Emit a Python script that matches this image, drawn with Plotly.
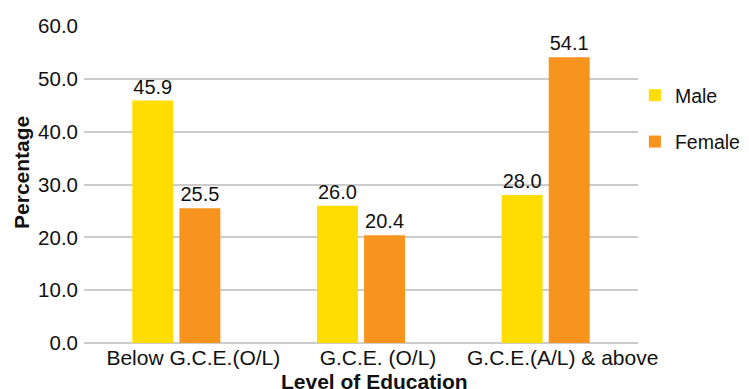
import plotly.graph_objects as go

categories = ["Below G.C.E.(O/L)", "G.C.E. (O/L)", "G.C.E.(A/L) & above"]
male = [45.9, 26.0, 28.0]
female = [25.5, 20.4, 54.1]
y_ticks = [0, 10, 20, 30, 40, 50, 60]

FONT = "Liberation Sans, Arial, Helvetica, sans-serif"

fig = go.Figure()
fig.add_trace(go.Bar(
    x=categories, y=male, name="Male", legendgroup="m",
    marker=dict(color="#FFDD00", line=dict(width=0)),
    text=[f"{v:.1f}" for v in male], textposition="outside",
    textfont=dict(size=20, color="#111111"), cliponaxis=False,
))
fig.add_trace(go.Bar(
    x=categories, y=female, name="Female", legendgroup="f",
    marker=dict(color="#F7941E", line=dict(width=0)),
    text=[f"{v:.1f}" for v in female], textposition="outside",
    textfont=dict(size=20, color="#111111"), cliponaxis=False,
))

# page body keeps an 8px margin, so the figure is sized to fit the window
fig.update_layout(
    width=741, height=381,
    margin=dict(l=76, r=111, t=18, b=46, autoexpand=False),
    plot_bgcolor="white", paper_bgcolor="white",
    font=dict(family=FONT, size=20, color="#111111"),
    barmode="group", bargap=0.49, bargroupgap=0.13,
    showlegend=True,
    legend=dict(
        xref="container", yref="container",
        x=0.846, xanchor="left", y=0.8215, yanchor="top",
        font=dict(size=19.5), tracegroupgap=18, itemwidth=30,
        bgcolor="rgba(0,0,0,0)",
    ),
    annotations=[
        dict(text="<b>Level of Education</b>", x=0.524, y=-0.08, xref="paper", yref="paper",
             xanchor="center", yanchor="top", showarrow=False, font=dict(size=21)),
        dict(text="<b>Percentage</b>", x=-0.114, y=0.539, xref="paper", yref="paper",
             xanchor="center", yanchor="middle", textangle=-90, showarrow=False,
             font=dict(size=21)),
    ],
)
fig.update_xaxes(showline=False, ticks="", tickfont=dict(size=21), showgrid=False,
                 ticklabelshift=17, automargin=False)
fig.update_yaxes(
    range=[0, 60], tickvals=y_ticks, tickformat=".1f",
    showgrid=True, gridcolor="#CCCCCC", gridwidth=1.5,
    zeroline=True, zerolinecolor="#CCCCCC", zerolinewidth=1.5,
    ticks="", ticklabelstandoff=5, tickfont=dict(size=20.5), automargin=False,
)

fig.write_html("out.html")
